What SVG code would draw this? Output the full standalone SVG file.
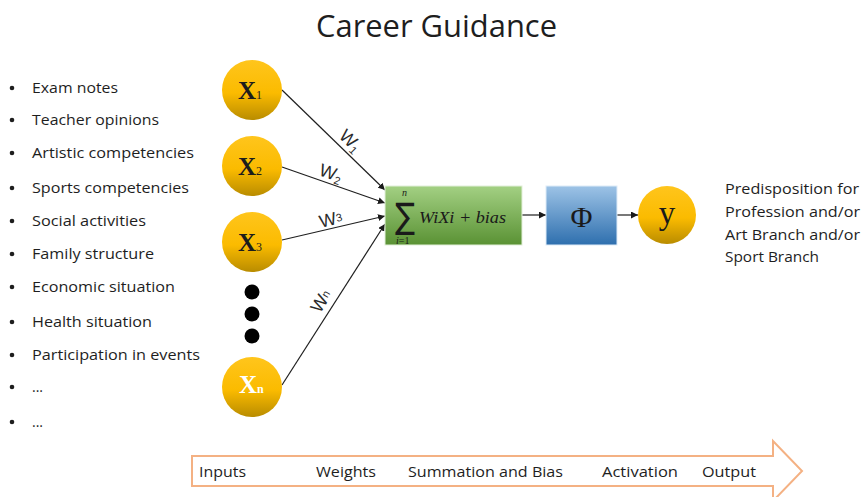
<svg xmlns="http://www.w3.org/2000/svg" width="862" height="497" viewBox="0 0 862 497">
  <defs>
    <linearGradient id="gold" x1="0" y1="0" x2="0" y2="1">
      <stop offset="0" stop-color="#FFC51C"/>
      <stop offset="0.55" stop-color="#FBBB00"/>
      <stop offset="1" stop-color="#B98C00"/>
    </linearGradient>
    <linearGradient id="green" x1="0" y1="0" x2="0" y2="1">
      <stop offset="0" stop-color="#A3D083"/>
      <stop offset="1" stop-color="#5A9234"/>
    </linearGradient>
    <linearGradient id="blue" x1="0" y1="0" x2="0" y2="1">
      <stop offset="0" stop-color="#9DC3E6"/>
      <stop offset="1" stop-color="#2E6FAE"/>
    </linearGradient>
    <marker id="arr" viewBox="0 0 10 10" refX="10" refY="5" markerWidth="7" markerHeight="7" orient="auto" markerUnits="userSpaceOnUse">
      <path d="M0,0 L10,5 L0,10 Z" fill="#1a1a1a"/>
    </marker>
    <style>
      .ui { font-family: "Open Sans", "Noto Sans", sans-serif; fill: #1e1e1e; }
      .item { font-size: 14px; }
      .xl { font-family: "Liberation Serif", "Times New Roman", serif; font-weight: bold; font-size: 25px; fill: #1c1c1c; }
      .xl tspan.s { font-size: 12px; font-weight: normal; }
      .wl { font-family: "Liberation Sans", Arial, sans-serif; font-size: 18px; fill: #2a2a2a; }
      .wl tspan.s { font-size: 11px; }
      .math { font-family: "Liberation Serif", "DejaVu Serif", serif; fill: #1a1a1a; }
      .conn { stroke: #1f1f1f; stroke-width: 1.2; fill: none; marker-end: url(#arr); }
      .node { fill: url(#gold); }
      .bullet { fill: #1e1e1e; }
    </style>
  </defs>

  <!-- title -->
  <text class="ui" x="316" y="37" font-size="31" textLength="241" lengthAdjust="spacingAndGlyphs">Career Guidance</text>

  <!-- input feature list -->
  <g id="feature-list" class="ui item">
    <circle class="bullet" cx="12" cy="88" r="2.3"/>
    <text x="32" y="93" textLength="86" lengthAdjust="spacingAndGlyphs">Exam notes</text>
    <circle class="bullet" cx="12" cy="120" r="2.3"/>
    <text x="32" y="125" textLength="127" lengthAdjust="spacingAndGlyphs">Teacher opinions</text>
    <circle class="bullet" cx="12" cy="153" r="2.3"/>
    <text x="32" y="158" textLength="162" lengthAdjust="spacingAndGlyphs">Artistic competencies</text>
    <circle class="bullet" cx="12" cy="188" r="2.3"/>
    <text x="32" y="193" textLength="157" lengthAdjust="spacingAndGlyphs">Sports competencies</text>
    <circle class="bullet" cx="12" cy="221" r="2.3"/>
    <text x="32" y="226" textLength="114" lengthAdjust="spacingAndGlyphs">Social activities</text>
    <circle class="bullet" cx="12" cy="254" r="2.3"/>
    <text x="32" y="259" textLength="122" lengthAdjust="spacingAndGlyphs">Family structure</text>
    <circle class="bullet" cx="12" cy="287" r="2.3"/>
    <text x="32" y="292" textLength="143" lengthAdjust="spacingAndGlyphs">Economic situation</text>
    <circle class="bullet" cx="12" cy="322" r="2.3"/>
    <text x="32" y="327" textLength="120" lengthAdjust="spacingAndGlyphs">Health situation</text>
    <circle class="bullet" cx="12" cy="355" r="2.3"/>
    <text x="32" y="360" textLength="168" lengthAdjust="spacingAndGlyphs">Participation in events</text>
    <circle class="bullet" cx="12" cy="387" r="2.3"/>
    <text x="32" y="392">...</text>
    <circle class="bullet" cx="12" cy="422" r="2.3"/>
    <text x="32" y="427">...</text>
  </g>

  <!-- connectors -->
  <g id="connectors">
    <line class="conn" x1="282" y1="90" x2="385" y2="190"/>
    <line class="conn" x1="282" y1="167" x2="385" y2="203"/>
    <line class="conn" x1="282" y1="240" x2="385" y2="216"/>
    <line class="conn" x1="282" y1="385" x2="385" y2="224"/>
    <line class="conn" x1="522" y1="215" x2="546" y2="215"/>
    <line class="conn" x1="617" y1="215" x2="638" y2="215"/>
  </g>

  <!-- weight labels -->
  <g id="weights" class="wl">
    <text transform="translate(338,137) rotate(44)">W<tspan class="s" dy="3">1</tspan></text>
    <text transform="translate(318,175) rotate(19)">W<tspan class="s" dy="3">2</tspan></text>
    <text transform="translate(321,228) rotate(-14)">W<tspan class="s" dy="-2">3</tspan></text>
    <text transform="translate(320,314) rotate(-58)">W<tspan class="s" dy="-2">n</tspan></text>
  </g>

  <!-- input neurons -->
  <g id="x1">
    <circle class="node" cx="252" cy="90" r="30"/>
    <text class="xl" x="238" y="99">X<tspan class="s">1</tspan></text>
  </g>
  <g id="x2">
    <circle class="node" cx="252" cy="166" r="30"/>
    <text class="xl" x="238" y="175">X<tspan class="s">2</tspan></text>
  </g>
  <g id="x3">
    <circle class="node" cx="252" cy="242" r="30"/>
    <text class="xl" x="238" y="251">X<tspan class="s">3</tspan></text>
  </g>
  <g id="ellipsis">
    <circle cx="252" cy="292" r="7.5" fill="#000"/>
    <circle cx="252" cy="314" r="7.5" fill="#000"/>
    <circle cx="252" cy="336" r="7.5" fill="#000"/>
  </g>
  <g id="xn">
    <circle class="node" cx="252" cy="387" r="30"/>
    <text class="xl" x="239" y="393" style="fill:#ffffff">X<tspan class="s" style="font-weight:bold">n</tspan></text>
  </g>

  <!-- summation node -->
  <g id="summation">
    <rect x="385" y="186" width="137" height="59" fill="url(#green)" stroke="#E2EFD9" stroke-width="1"/>
    <text x="395" y="228" font-family="'DejaVu Sans', sans-serif" font-size="35" fill="#1a1a1a" textLength="20" lengthAdjust="spacingAndGlyphs">∑</text>
    <text class="math" x="402" y="196" font-size="10" font-style="italic">n</text>
    <text class="math" x="396" y="244" font-size="10"><tspan font-style="italic">i</tspan>=1</text>
    <text class="math" x="419" y="223" font-size="17" font-style="italic" textLength="87" lengthAdjust="spacingAndGlyphs">WiXi + bias</text>
  </g>

  <!-- activation node -->
  <g id="activation">
    <rect x="546" y="186" width="71" height="59" fill="url(#blue)" stroke="#DEEBF7" stroke-width="1"/>
    <text class="math" x="581.5" y="227" font-size="30" text-anchor="middle">Φ</text>
  </g>

  <!-- output neuron -->
  <g id="output">
    <circle class="node" cx="667" cy="215" r="29"/>
    <text class="math" x="667" y="224" font-size="33" text-anchor="middle">y</text>
  </g>

  <!-- output description -->
  <g id="output-text" class="ui" font-size="14">
    <text x="725" y="194" textLength="134" lengthAdjust="spacingAndGlyphs">Predisposition for</text>
    <text x="725" y="217" textLength="135" lengthAdjust="spacingAndGlyphs">Profession and/or</text>
    <text x="725" y="240" textLength="135" lengthAdjust="spacingAndGlyphs">Art Branch and/or</text>
    <text x="725" y="262" textLength="94" lengthAdjust="spacingAndGlyphs">Sport Branch</text>
  </g>

  <!-- process stages -->
  <g id="stages">
    <path d="M192,456 H773 V441 L802,471 L773,501 V486 H192 Z" fill="#ffffff" stroke="#F4B183" stroke-width="2"/>
    <g class="ui" font-size="14">
      <text x="199" y="477" textLength="47" lengthAdjust="spacingAndGlyphs">Inputs</text>
      <text x="316" y="477" textLength="60" lengthAdjust="spacingAndGlyphs">Weights</text>
      <text x="408" y="477" textLength="155" lengthAdjust="spacingAndGlyphs">Summation and Bias</text>
      <text x="602" y="477" textLength="76" lengthAdjust="spacingAndGlyphs">Activation</text>
      <text x="702" y="477" textLength="54" lengthAdjust="spacingAndGlyphs">Output</text>
    </g>
  </g>
</svg>
